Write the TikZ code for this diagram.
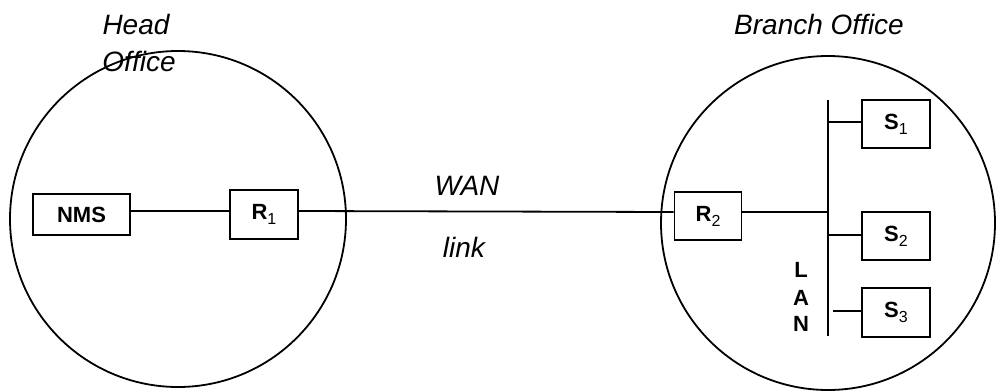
\documentclass[tikz,border=0pt]{standalone}
\usepackage{fontspec}
\setmainfont{Liberation Sans}
\newcommand{\sub}[1]{\raisebox{-5pt}{\fontsize{16}{16}\selectfont\mdseries #1}}
\begin{document}
\begin{tikzpicture}[x=1pt,y=-1pt,
  line/.style={line width=1.8pt},
  boxnode/.style={draw,line width=1.8pt,rectangle,inner sep=0pt,font=\fontsize{22}{24}\selectfont\bfseries},
  lanletter/.style={font=\fontsize{22}{24}\selectfont\bfseries,inner sep=0pt},
  lbl/.style={font=\fontsize{28}{30}\selectfont\itshape,inner sep=0pt}]
\useasboundingbox (0,0) rectangle (996,391);
% circles
\draw[line width=1.8pt] (178,219) circle[radius=168];
\draw[line width=1.8pt] (828,223) circle[radius=167];
% labels
\node[lbl] (head) at (136,24) {Head};
\node[lbl] (office) at (139,61) {Office};
\node[lbl] (branch) at (819,24) {Branch Office};
\node[lbl] (wan) at (467,186) {WAN};
\node[lbl] (link) at (464,247) {link};
% boxes
\node[boxnode,minimum width=97pt,minimum height=41pt] (nms) at (81.5,214.5) {NMS};
\node[boxnode,minimum width=68pt,minimum height=49pt] (r1) at (264,214.5) {R\sub{1}};
\node[boxnode,minimum width=67pt,minimum height=48pt] (r2) at (708,216) {R\sub{2}};
\node[boxnode,minimum width=68pt,minimum height=48pt] (s1) at (896,124) {S\sub{1}};
\node[boxnode,minimum width=68pt,minimum height=48pt] (s2) at (896,236) {S\sub{2}};
\node[boxnode,minimum width=68pt,minimum height=49pt] (s3) at (896,312.5) {S\sub{3}};
% LAN bus
\coordinate (lantop) at (828,100);
\coordinate (lanbot) at (828,336);
\draw[line width=2.6pt] (lantop) -- (lanbot);
\node[lanletter] (lanL) at (801,270) {L};
\node[lanletter] (lanA) at (801,298) {A};
\node[lanletter] (lanN) at (801,324) {N};
% connectors
\draw[line] (nms.east |- 0,211) -- (r1.west |- 0,211);
\draw[line] (r1.east |- 0,211) -- (r2.west |- 0,212);
\coordinate (j0) at (828,212);
\coordinate (j1) at (828,122);
\coordinate (j2) at (828,235);
\coordinate (j3) at (833,311);
\draw[line] (r2.east |- j0) -- (j0);
\draw[line] (j1) -- (s1.west |- j1);
\draw[line] (j2) -- (s2.west |- j2);
\draw[line] (j3) -- (s3.west |- j3);
\end{tikzpicture}
\end{document}
